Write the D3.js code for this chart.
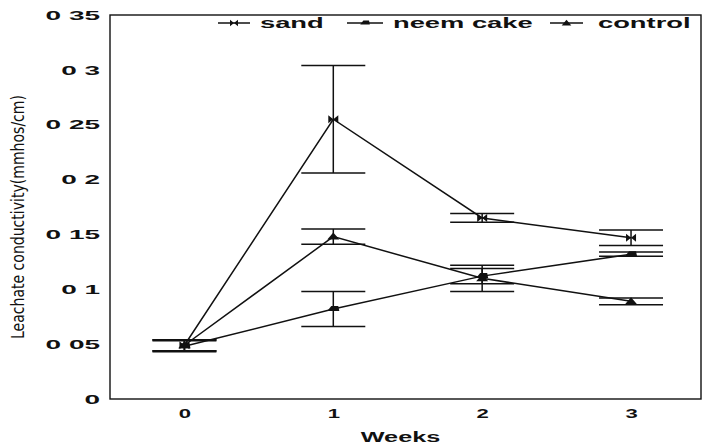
<!DOCTYPE html>
<html>
<head>
<meta charset="utf-8">
<script src="https://cdn.jsdelivr.net/npm/d3@7"></script>
<style>
  body { margin: 0; background: #fff; }
  text { font-family: "Liberation Sans", Arial, sans-serif; font-weight: bold; fill: #111; }
</style>
</head>
<body>
<div id="chart-area"></div>
<script>
// values
var weeks = [0, 1, 2, 3];
var seriesNames = ["sand", "neem cake", "control"];
var sand = [0.049, 0.255, 0.165, 0.147];
var sandErr = [0.005, 0.049, 0.004, 0.007];
var neem = [0.048, 0.082, 0.112, 0.132];
var neemErr = [0.005, 0.016, 0.007, 0.002];
var control = [0.049, 0.148, 0.110, 0.089];
var controlErr = [0.005, 0.007, 0.012, 0.003];
var yTicks = [0, 0.05, 0.1, 0.15, 0.2, 0.25, 0.3, 0.35];
var yTickLabels = ["0", "0 05", "0 1", "0 15", "0 2", "0 25", "0 3", "0 35"];

var W = 707, H = 445;
var pLeft = 110, pRight = 701, pTop = 15, pBottom = 399;

var svg = d3.select("#chart-area")
  .append("svg")
  .attr("width", W)
  .attr("height", H);

var x = d3.scaleLinear().domain([-0.5, 3.47]).range([pLeft, pRight]);
var y = d3.scaleLinear().domain([0, 0.35]).range([pBottom, pTop]);

// stretch text horizontally, the scan uses a very wide bold face
function widen(sel, k) {
  sel.each(function () {
    var len = this.getComputedTextLength();
    d3.select(this).attr("textLength", len * k).attr("lengthAdjust", "spacingAndGlyphs");
  });
}

// custom markers
var bowtie = { draw: function (c) {
  c.moveTo(-5, -4); c.lineTo(0, 0); c.lineTo(-5, 4); c.closePath();
  c.moveTo(5, -4); c.lineTo(0, 0); c.lineTo(5, 4); c.closePath();
} };
var flat = { draw: function (c) {
  c.moveTo(-6, 2); c.lineTo(-2, -3); c.lineTo(5, -3); c.lineTo(6, 2); c.closePath();
} };
var tri = { draw: function (c) {
  c.moveTo(-6, 3); c.lineTo(0, -4); c.lineTo(6, 3); c.closePath();
} };

var series = [
  { name: seriesNames[0], values: sand, err: sandErr, sym: bowtie },
  { name: seriesNames[1], values: neem, err: neemErr, sym: flat },
  { name: seriesNames[2], values: control, err: controlErr, sym: tri }
];

// frame
svg.append("rect")
  .attr("x", pLeft).attr("y", pTop)
  .attr("width", pRight - pLeft).attr("height", pBottom - pTop)
  .attr("fill", "none").attr("stroke", "#111").attr("stroke-width", 1.4);

// y axis labels
var yAxis = d3.axisLeft(y).tickValues(yTicks)
  .tickFormat(function (d, i) { return yTickLabels[i]; })
  .tickSize(0).tickPadding(10);
var gy = svg.append("g").attr("transform", "translate(" + pLeft + ",0)").call(yAxis);
gy.select(".domain").remove();
gy.selectAll("text").style("font-size", "13px").attr("fill", "#111")
  .style("font-family", "'Liberation Sans', Arial, sans-serif").style("font-weight", "bold");
widen(gy.selectAll("text"), 2.15);

// x axis labels
var xAxis = d3.axisBottom(x).tickValues(weeks).tickFormat(d3.format("d"))
  .tickSize(0).tickPadding(10);
var gx = svg.append("g").attr("transform", "translate(0," + pBottom + ")").call(xAxis);
gx.select(".domain").remove();
gx.selectAll("text").style("font-size", "13px").attr("fill", "#111")
  .style("font-family", "'Liberation Sans', Arial, sans-serif").style("font-weight", "bold");
widen(gx.selectAll("text"), 1.7);

// axis titles
var xt = svg.append("text")
  .attr("x", (pLeft + pRight) / 2 - 5).attr("y", 442)
  .attr("text-anchor", "middle")
  .style("font-size", "14px")
  .text("Weeks");
widen(xt, 1.8);

var yt = svg.append("text")
  .attr("transform", "translate(24," + 217 + ") rotate(-90)")
  .attr("text-anchor", "middle")
  .style("font-family", "'Liberation Sans Narrow', 'DejaVu Sans Condensed', sans-serif")
  .style("font-weight", "normal")
  .style("font-size", "17px")
  .text("Leachate conductivity(mmhos/cm)");
yt.attr("textLength", 244).attr("lengthAdjust", "spacingAndGlyphs");

// lines
var line = d3.line()
  .x(function (d, i) { return x(weeks[i]); })
  .y(function (d) { return y(d); });

var capHalf = 32;
series.forEach(function (s) {
  var g = svg.append("g");
  g.append("path")
    .attr("d", line(s.values))
    .attr("fill", "none").attr("stroke", "#111").attr("stroke-width", 1.5);

  // error bars
  var eb = g.selectAll(".eb").data(s.values).enter().append("g");
  eb.append("line")
    .attr("x1", function (d, i) { return x(weeks[i]); })
    .attr("x2", function (d, i) { return x(weeks[i]); })
    .attr("y1", function (d, i) { return y(d + s.err[i]); })
    .attr("y2", function (d, i) { return y(d - s.err[i]); })
    .attr("stroke", "#111").attr("stroke-width", 1.5);
  [1, -1].forEach(function (sign) {
    eb.append("line")
      .attr("x1", function (d, i) { return x(weeks[i]) - capHalf; })
      .attr("x2", function (d, i) { return x(weeks[i]) + capHalf; })
      .attr("y1", function (d, i) { return y(d + sign * s.err[i]); })
      .attr("y2", function (d, i) { return y(d + sign * s.err[i]); })
      .attr("stroke", "#111").attr("stroke-width", 1.5);
  });

  // markers
  g.selectAll(".pt").data(s.values).enter().append("path")
    .attr("d", d3.symbol().type(s.sym))
    .attr("transform", function (d, i) { return "translate(" + x(weeks[i]) + "," + y(d) + ")"; })
    .attr("fill", "#111");
});

// legend along the top edge
var legendPos = [
  { lx: 218, lw: 32, tx: 260 },
  { lx: 347, lw: 36, tx: 393 },
  { lx: 550, lw: 33, tx: 598 }
];
var legendY = 23;
series.forEach(function (s, i) {
  var p = legendPos[i];
  svg.append("line")
    .attr("x1", p.lx).attr("x2", p.lx + p.lw)
    .attr("y1", legendY).attr("y2", legendY)
    .attr("stroke", "#111").attr("stroke-width", 1.5);
  svg.append("path")
    .attr("d", d3.symbol().type(s.sym))
    .attr("transform", "translate(" + (p.lx + p.lw / 2) + "," + legendY + ") scale(0.8)")
    .attr("fill", "#111");
  var t = svg.append("text")
    .attr("x", p.tx).attr("y", legendY + 5)
    .style("font-size", "14px")
    .text(s.name);
  widen(t, 1.95);
});
</script>
</body>
</html>
